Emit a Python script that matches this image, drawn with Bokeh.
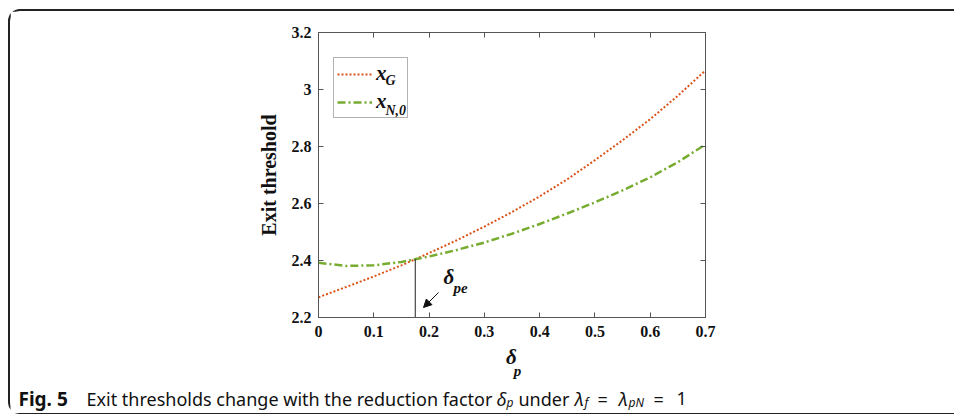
from bokeh.plotting import figure
from bokeh.layouts import column
from bokeh.models import (Range1d, LinearAxis, FixedTicker, CustomJSTickFormatter, Legend,
                          LegendItem, Label, Arrow, NormalHead)
from bokeh.embed import file_html
from bokeh.resources import INLINE

# ---------------- data ----------------
delta_p = [0.00, 0.05, 0.10, 0.15, 0.20, 0.25, 0.30, 0.35, 0.40, 0.45, 0.50, 0.55, 0.60, 0.65, 0.70]
x_G = [2.271, 2.307, 2.344, 2.383, 2.426, 2.471, 2.519, 2.570, 2.625, 2.685, 2.752, 2.822, 2.896, 2.978, 3.067]
x_N0 = [2.392, 2.381, 2.383, 2.395, 2.414, 2.437, 2.463, 2.494, 2.528, 2.565, 2.604, 2.646, 2.692, 2.745, 2.807]
x_ticks = [0, 0.1, 0.2, 0.3, 0.4, 0.5, 0.6, 0.7]
x_tick_labels = ["0", "0.1", "0.2", "0.3", "0.4", "0.5", "0.6", "0.7"]
y_ticks = [2.2, 2.4, 2.6, 2.8, 3.0, 3.2]
y_tick_labels = ["2.2", "2.4", "2.6", "2.8", "3", "3.2"]
delta_pe = 0.175
delta_pe_level = 2.405

# ---------------- geometry (page pixels) ----------------
OX, OY = 10, 11                      # content origin inside the rounded border
WA, HA = 944, 334                    # main figure
HB = 68                              # caption figure
FL, FR, FT, FB = 318, 705, 32, 317   # plot frame edges
X0, X1, Y0, Y1 = 0.0, 0.7, 2.2, 3.2


def dx(px):
    return X0 + (px - FL) * (X1 - X0) / (FR - FL)


def dy(py):
    return Y0 + (FB - py) * (Y1 - Y0) / (FB - FT)


SERIF = "Liberation Serif"
SANS = "Noto Sans"
AX = "#555555"
INK = "#111111"

p = figure(width=WA, height=HA, output_backend="svg", toolbar_location=None,
           x_range=Range1d(X0, X1), y_range=Range1d(Y0, Y1),
           min_border_left=FL - OX, min_border_right=WA - (FR - OX),
           min_border_top=FT - OY, min_border_bottom=HA - (FB - OY))
p.frame_align = False
p.grid.visible = False
p.outline_line_color = AX
p.outline_line_width = 1
p.background_fill_color = "white"
p.border_fill_color = "white"


def style_axis(ax, show_labels):
    ax.axis_line_color = AX
    ax.major_tick_line_color = AX
    ax.major_tick_in = 5
    ax.major_tick_out = 0
    ax.minor_tick_line_color = None
    ax.major_label_text_font = SERIF
    ax.major_label_text_font_style = "bold"
    ax.major_label_text_font_size = "16px"
    ax.major_label_text_color = INK
    if not show_labels:
        ax.formatter = CustomJSTickFormatter(code="return ''")


p.xaxis.ticker = FixedTicker(ticks=x_ticks)
p.xaxis.major_label_overrides = dict(zip(x_ticks, x_tick_labels))
p.yaxis.ticker = FixedTicker(ticks=y_ticks)
p.yaxis.major_label_overrides = dict(zip(y_ticks, y_tick_labels))
style_axis(p.xaxis[0], True)
style_axis(p.yaxis[0], True)
p.xaxis.major_label_standoff = 8
p.yaxis.major_label_standoff = 7
p.yaxis.axis_label = "Exit threshold"
p.yaxis.axis_label_text_font = SERIF
p.yaxis.axis_label_text_font_style = "bold"
p.yaxis.axis_label_text_font_size = "20px"
p.yaxis.axis_label_text_color = INK
p.yaxis.axis_label_standoff = 9

top_ax = LinearAxis(ticker=FixedTicker(ticks=x_ticks))
style_axis(top_ax, False)
p.add_layout(top_ax, "above")
right_ax = LinearAxis(ticker=FixedTicker(ticks=y_ticks))
style_axis(right_ax, False)
p.add_layout(right_ax, "right")

# ---------------- series ----------------
rG = p.line(delta_p, x_G, line_color="#D95319", line_width=2, line_dash="2 2")
rN = p.line(delta_p, x_N0, line_color="#77AC30", line_width=2.5, line_dash="8 3 2 3")

# crossing marker
p.segment(x0=[delta_pe], y0=[Y0], x1=[delta_pe], y1=[delta_pe_level], line_color="#222222", line_width=1)
p.add_layout(Arrow(end=NormalHead(size=8, fill_color=INK, line_color=INK),
                   x_start=dx(438), y_start=dy(292), x_end=dx(423), y_end=dy(307),
                   line_color=INK, line_width=1))


def lab(fig, text, x, y, size, style="bold italic", font=SERIF, align="left", baseline="middle"):
    fig.add_layout(Label(x=x, y=y, text=text, text_font=font, text_font_style=style,
                         text_font_size=size, text_align=align, text_baseline=baseline,
                         text_color=INK, level="overlay"))


lab(p, "\u03b4", dx(443), dy(276), "21px")
lab(p, "pe", dx(453), dy(287), "15px")

# ---------------- legend ----------------
legend = Legend(items=[LegendItem(label="x", renderers=[rG]), LegendItem(label="x", renderers=[rN])],
                location=(333 - FL, FB - 118), orientation="vertical",
                glyph_width=35, glyph_height=20, label_height=20, label_width=28,
                label_standoff=4, padding=3, spacing=3, margin=0,
                border_line_color="#666666", border_line_width=1,
                background_fill_color="white", background_fill_alpha=0,
                label_text_font=SERIF, label_text_font_style="bold italic",
                label_text_font_size="21px", label_text_color=INK)
p.add_layout(legend)
lab(p, "G", dx(385), dy(80), "14px")
lab(p, "N,0", dx(385), dy(110), "14px")

# ---------------- lower strip: x-axis label and caption ----------------
BY = OY + HA   # page y of the strip's top
q = figure(width=WA, height=HB, output_backend="svg", toolbar_location=None,
           x_range=Range1d(0, WA), y_range=Range1d(HB, 0),
           x_axis_location=None, y_axis_location=None, min_border=0)
q.frame_align = False
q.grid.visible = False
q.outline_line_color = None
q.background_fill_color = "white"
q.border_fill_color = "white"


def qx(px):
    return px - OX


def qy(py):
    return py - BY


lab(q, "\u03b4", qx(511), qy(356), "21px", align="center")
lab(q, "p", qx(517), qy(370), "15px", align="center")

cap_y = qy(398)
sub_y = qy(402)
lab(q, "Fig. 5", qx(18), cap_y, "19px", style="bold", font=SANS, baseline="alphabetic")
lab(q, "Exit thresholds change with the reduction factor", qx(86), cap_y, "18px", style="normal",
    font=SANS, baseline="alphabetic")
lab(q, "\u03b4", qx(496), cap_y, "18px", style="italic", font=SANS, baseline="alphabetic")
lab(q, "p", qx(506), sub_y, "12px", style="italic", font=SANS, baseline="alphabetic")
lab(q, "under", qx(518), cap_y, "18px", style="normal", font=SANS, baseline="alphabetic")
lab(q, "\u03bb", qx(574), cap_y, "18px", style="italic", font=SANS, baseline="alphabetic")
lab(q, "f", qx(584), sub_y, "12px", style="italic", font=SANS, baseline="alphabetic")
lab(q, "=", qx(597), cap_y, "18px", style="normal", font=SANS, baseline="alphabetic")
lab(q, "\u03bb", qx(618), cap_y, "18px", style="italic", font=SANS, baseline="alphabetic")
lab(q, "pN", qx(628), sub_y, "12px", style="italic", font=SANS, baseline="alphabetic")
lab(q, "=", qx(653), cap_y, "18px", style="normal", font=SANS, baseline="alphabetic")
lab(q, "1", qx(676), cap_y, "18px", style="normal", font=SANS, baseline="alphabetic")

page = column(p, q, spacing=0,
              styles={"margin-left": "8px", "margin-top": "9px",
                      "border-top": "2px solid #222", "border-left": "2px solid #222",
                      "border-bottom": "1px solid #222",
                      "border-radius": "12px 0 0 12px"})

open("out.html", "w").write(file_html(page, INLINE))
